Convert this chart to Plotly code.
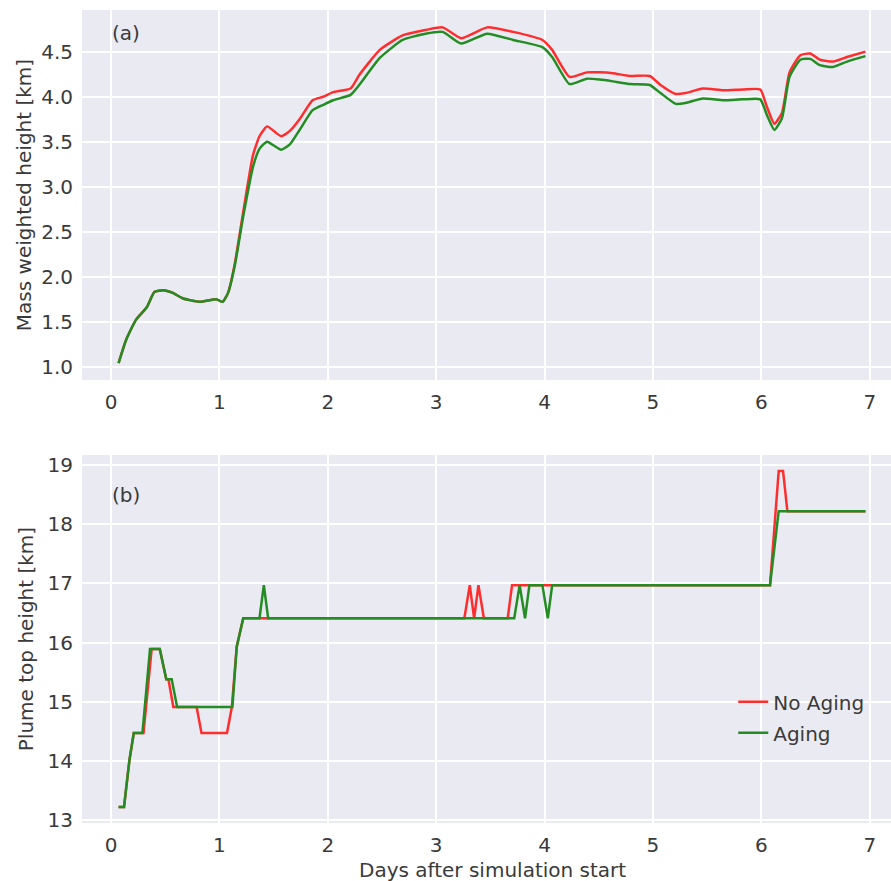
import plotly.graph_objects as go
from plotly.subplots import make_subplots

# ---- (a) mass weighted plume height ----
days_a = [0.07, 0.14, 0.23, 0.33, 0.40, 0.48, 0.57, 0.66, 0.82, 0.97, 1.03, 1.08,
          1.14, 1.22, 1.31, 1.37, 1.44, 1.57, 1.65, 1.74, 1.86, 1.96, 2.05, 2.21,
          2.29, 2.48, 2.69, 2.90, 3.06, 3.23, 3.47, 3.71, 3.98, 4.07, 4.23, 4.39,
          4.51, 4.63, 4.79, 4.97, 5.07, 5.21, 5.30, 5.46, 5.65, 5.83, 5.99, 6.05,
          6.12, 6.19, 6.26, 6.36, 6.45, 6.54, 6.66, 6.79, 6.96]
mass_no_aging = [1.04, 1.30, 1.52, 1.66, 1.83, 1.85, 1.82, 1.76, 1.72, 1.75, 1.72, 1.82,
                 2.13, 2.72, 3.35, 3.56, 3.67, 3.56, 3.62, 3.75, 3.96, 4.00, 4.05, 4.09,
                 4.24, 4.52, 4.68, 4.74, 4.77, 4.65, 4.77, 4.72, 4.63, 4.52, 4.22, 4.27,
                 4.27, 4.26, 4.23, 4.23, 4.13, 4.03, 4.04, 4.09, 4.07, 4.08, 4.08, 3.89,
                 3.70, 3.82, 4.27, 4.46, 4.48, 4.41, 4.39, 4.44, 4.50]
mass_aging = [1.04, 1.30, 1.52, 1.66, 1.83, 1.85, 1.82, 1.76, 1.72, 1.75, 1.72, 1.82,
              2.11, 2.67, 3.22, 3.42, 3.50, 3.41, 3.47, 3.63, 3.85, 3.91, 3.96, 4.02,
              4.13, 4.43, 4.63, 4.70, 4.72, 4.59, 4.70, 4.63, 4.55, 4.44, 4.14, 4.20,
              4.19, 4.17, 4.14, 4.13, 4.04, 3.92, 3.93, 3.98, 3.96, 3.97, 3.97, 3.80,
              3.63, 3.76, 4.22, 4.41, 4.42, 4.35, 4.33, 4.39, 4.45]

# ---- (b) plume top height ----
days_b_no_aging = [0.07, 0.12, 0.17, 0.21, 0.30, 0.375, 0.45, 0.51, 0.53, 0.575, 0.79,
                   0.835, 1.07, 1.115, 1.16, 1.22, 3.26, 3.31, 3.35, 3.39, 3.44, 3.66,
                   3.70, 6.08, 6.16, 6.20, 6.24, 6.96]
top_no_aging = [13.22, 13.22, 14.01, 14.47, 14.47, 15.89, 15.89, 15.38, 15.38, 14.91, 14.91,
                14.47, 14.47, 14.91, 15.93, 16.41, 16.41, 16.97, 16.41, 16.97, 16.41, 16.41,
                16.97, 16.97, 18.90, 18.90, 18.22, 18.22]
days_b_aging = [0.07, 0.12, 0.17, 0.21, 0.29, 0.36, 0.45, 0.51, 0.56, 0.61, 1.12, 1.16,
                1.22, 1.37, 1.41, 1.45, 3.72, 3.77, 3.82, 3.86, 3.98, 4.03, 4.07, 6.08,
                6.16, 6.96]
top_aging = [13.22, 13.22, 14.01, 14.47, 14.47, 15.89, 15.89, 15.38, 15.38, 14.91, 14.91,
             15.93, 16.41, 16.41, 16.97, 16.41, 16.41, 16.97, 16.41, 16.97, 16.97, 16.41,
             16.97, 16.97, 18.22, 18.22]

x_ticks = [0, 1, 2, 3, 4, 5, 6, 7]
ya_ticks = [1.0, 1.5, 2.0, 2.5, 3.0, 3.5, 4.0, 4.5]
yb_ticks = [13, 14, 15, 16, 17, 18, 19]

RED = "#ff2e2e"
GREEN = "#238c23"
BG = "#EAEAF2"
TXT = "#3a3a3a"
FONT = "DejaVu Sans"
FS = 20

fig = make_subplots(rows=2, cols=1)

fig.add_trace(go.Scatter(x=days_a, y=mass_no_aging, mode="lines", name="No Aging",
                         line=dict(color=RED, width=2.5, shape="spline", smoothing=0.5),
                         showlegend=False), row=1, col=1)
fig.add_trace(go.Scatter(x=days_a, y=mass_aging, mode="lines", name="Aging",
                         line=dict(color=GREEN, width=2.5, shape="spline", smoothing=0.5),
                         showlegend=False), row=1, col=1)
fig.add_trace(go.Scatter(x=days_b_no_aging, y=top_no_aging, mode="lines", name="No Aging",
                         legendgroup="na", line=dict(color=RED, width=2.5)), row=2, col=1)
fig.add_trace(go.Scatter(x=days_b_aging, y=top_aging, mode="lines", name="Aging",
                         legendgroup="ag", line=dict(color=GREEN, width=2.5)), row=2, col=1)

axis_common = dict(showgrid=True, gridcolor="white", gridwidth=1.5, zeroline=False,
                   showline=False, ticks="", tickfont=dict(family=FONT, size=FS, color=TXT))

fig.update_xaxes(range=[-0.2675, 7.196], tickvals=x_ticks, ticklabelstandoff=8, **axis_common)
fig.update_yaxes(ticklabelstandoff=8, **axis_common)

fig.update_yaxes(row=1, col=1, range=[0.852, 4.963], tickvals=ya_ticks, tickformat=".1f",
                 domain=[0.5449, 1.0],
                 title=dict(text="Mass weighted height [km]", standoff=4,
                            font=dict(family=FONT, size=FS, color=TXT)))
fig.update_yaxes(row=2, col=1, range=[12.949, 19.169], tickvals=yb_ticks,
                 domain=[0.0, 0.4526],
                 title=dict(text="Plume top height [km]", standoff=8,
                            font=dict(family=FONT, size=FS, color=TXT)))

fig.add_annotation(text="(a)", xref="paper", yref="paper", x=0.0346, y=0.9717,
                   xanchor="left", yanchor="middle", showarrow=False,
                   font=dict(family=FONT, size=FS, color=TXT))
fig.add_annotation(text="(b)", xref="paper", yref="paper", x=0.0346, y=0.4034,
                   xanchor="left", yanchor="middle", showarrow=False,
                   font=dict(family=FONT, size=FS, color=TXT))
fig.add_annotation(text="Days after simulation start", xref="paper", yref="paper",
                   x=0.5068, y=-0.0575, xanchor="center", yanchor="middle", showarrow=False,
                   font=dict(family=FONT, size=FS, color=TXT))

fig.update_layout(
    width=891, height=881,
    margin=dict(l=82, r=0, t=10, b=58),
    plot_bgcolor=BG, paper_bgcolor="white",
    font=dict(family=FONT, size=FS, color=TXT),
    legend=dict(x=0.805, y=0.173, xanchor="left", yanchor="top",
                bgcolor="rgba(0,0,0,0)", font=dict(family=FONT, size=FS, color=TXT),
                tracegroupgap=2),
)

fig.write_html("out.html")
